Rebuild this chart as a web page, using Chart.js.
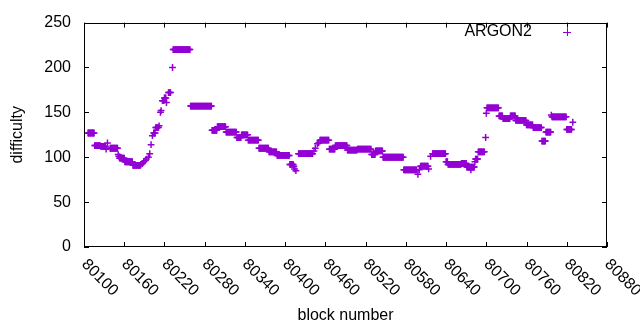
<!DOCTYPE html>
<html>
<head>
<meta charset="utf-8">
<script src="https://cdn.jsdelivr.net/npm/chart.js@4/dist/chart.umd.min.js"></script>
<style>
  html, body { margin: 0; padding: 0; background: #fff; }
  #wrap { width: 640px; height: 330px; }
</style>
</head>
<body>
<div id="wrap"><canvas id="chart" width="640" height="330"></canvas></div>
<script>
const runFrom = [
  80106, 80116, 80125, 80133, 80135, 80139, 80151, 80152, 80153, 80161,
  80173, 80185, 80187, 80189, 80191, 80193, 80196, 80198, 80200, 80202,
  80204, 80207, 80212, 80214, 80215, 80217, 80220, 80223, 80226, 80232,
  80233, 80259, 80291, 80299, 80312, 80328, 80335, 80345, 80361, 80376,
  80388, 80407, 80413, 80414, 80416, 80420, 80443, 80445, 80448, 80450,
  80452, 80466, 80475, 80493, 80508, 80529, 80535, 80546, 80577, 80598,
  80600, 80602, 80614, 80617, 80620, 80640, 80643, 80663, 80671, 80677,
  80683, 80684, 80688, 80699, 80700, 80701, 80719, 80725, 80736, 80744,
  80760, 80770, 80783, 80789, 80797, 80798, 80820, 80829
]
const runTo = [
  80115, 80124, 80132, 80133, 80135, 80150, 80151, 80152, 80160, 80172,
  80184, 80185, 80187, 80189, 80191, 80193, 80196, 80198, 80200, 80202,
  80206, 80211, 80212, 80214, 80215, 80219, 80222, 80223, 80229, 80232,
  80258, 80290, 80298, 80311, 80327, 80334, 80344, 80360, 80375, 80387,
  80406, 80412, 80413, 80414, 80416, 80441, 80443, 80445, 80448, 80450,
  80465, 80474, 80492, 80507, 80528, 80534, 80545, 80576, 80596, 80598,
  80600, 80613, 80614, 80617, 80639, 80642, 80662, 80670, 80682, 80677,
  80683, 80687, 80697, 80699, 80700, 80718, 80724, 80735, 80743, 80759,
  80769, 80782, 80788, 80796, 80797, 80819, 80827, 80829
]
const runDifficulty = [
  127, 113, 112, 109, 116, 110, 103, 101, 99, 95,
  91, 92, 93, 95, 96, 98, 100, 104, 114, 124,
  127, 133, 135, 150, 152, 163, 166, 161, 172, 200,
  220, 157, 130, 134, 128, 122, 125, 119, 110, 106,
  102, 92, 90, 87, 85, 104, 107, 110, 115, 116,
  119, 109, 113, 108, 109, 103, 107, 100, 86, 81,
  86, 90, 87, 101, 104, 95, 92, 93, 89, 86,
  95, 98, 106, 122, 149, 155, 146, 143, 146, 141,
  136, 133, 118, 128, 147, 145, 131, 139
]

const xTicks = [80100, 80160, 80220, 80280, 80340, 80400, 80460, 80520, 80580, 80640, 80700, 80760, 80820, 80880]
const yTicks = [0, 50, 100, 150, 200, 250]
const seriesName = "ARGON2"
const xTitle = "block number"
const yTitle = "difficulty"

const purple = "#9400d3"
const FONT = "'Liberation Sans', Arial, sans-serif"

// one point per block
const points = []
for (let i = 0; i < runFrom.length; i++) {
  for (let b = runFrom[i]; b <= runTo[i]; b++) {
    points.push({x: b, y: runDifficulty[i]})
  }
}

const gnuplotFrame = {
  id: "gnuplotFrame",
  afterDraw(chart) {
    const ctx = chart.ctx
    const a = chart.chartArea
    const xs = chart.scales.x
    const ys = chart.scales.y
    ctx.save()
    ctx.strokeStyle = "#000"
    ctx.lineWidth = 1
    ctx.strokeRect(Math.round(a.left) + 0.5, Math.round(a.top) + 0.5,
                   Math.round(a.right - a.left) - 1, Math.round(a.bottom - a.top) - 1)
    const tl = 5
    ctx.beginPath()
    yTicks.forEach(v => {
      const py = Math.round(ys.getPixelForValue(v)) + 0.5
      ctx.moveTo(a.left, py); ctx.lineTo(a.left + tl, py)
      ctx.moveTo(a.right, py); ctx.lineTo(a.right - tl, py)
    })
    xTicks.forEach(v => {
      const px = Math.round(xs.getPixelForValue(v)) + 0.5
      ctx.moveTo(px, a.bottom); ctx.lineTo(px, a.bottom - tl)
      ctx.moveTo(px, a.top); ctx.lineTo(px, a.top + tl)
    })
    ctx.stroke()

    ctx.fillStyle = "#000"
    ctx.font = "16px " + FONT
    // x tick labels, slanted down to the right
    ctx.textAlign = "left"
    ctx.textBaseline = "middle"
    xTicks.forEach(v => {
      const px = xs.getPixelForValue(v)
      ctx.save()
      ctx.translate(px, a.bottom + 15)
      ctx.rotate(Math.PI / 4)
      ctx.fillText(String(v), 0, 0)
      ctx.restore()
    })
    // axis titles
    ctx.textAlign = "center"
    ctx.fillText(xTitle, (a.left + a.right) / 2, 316)
    ctx.save()
    ctx.translate(18, (a.top + a.bottom) / 2)
    ctx.rotate(-Math.PI / 2)
    ctx.fillText(yTitle, 0, 0)
    ctx.restore()
    // key
    ctx.textAlign = "right"
    ctx.fillText(seriesName, 532, 32)
    ctx.strokeStyle = purple
    ctx.beginPath()
    ctx.moveTo(563, 32.5); ctx.lineTo(571, 32.5)
    ctx.moveTo(567.5, 28); ctx.lineTo(567.5, 36)
    ctx.stroke()
    ctx.restore()
  }
}

new Chart("chart", {
  type: "scatter",
  data: {
    datasets: [{
      label: seriesName,
      data: points,
      pointStyle: "cross",
      pointRadius: 3.4,
      pointBorderWidth: 1.5,
      borderColor: purple,
      backgroundColor: purple
    }]
  },
  options: {
    responsive: false,
    animation: false,
    layout: {padding: {left: 0, top: 18, right: 33, bottom: 0}},
    plugins: {legend: {display: false}, tooltip: {enabled: false}},
    scales: {
      x: {
        type: "linear",
        min: 80100,
        max: 80880,
        ticks: {display: false, stepSize: 60},
        grid: {display: false, drawTicks: false},
        border: {display: false},
        afterFit: s => { s.height = 83 }
      },
      y: {
        min: 0,
        max: 250,
        ticks: {stepSize: 50, padding: 13, color: "#000", font: {size: 16, family: FONT}},
        grid: {display: false, drawTicks: false},
        border: {display: false},
        afterFit: s => { s.width = 84 }
      }
    }
  },
  plugins: [gnuplotFrame]
})
</script>
</body>
</html>
